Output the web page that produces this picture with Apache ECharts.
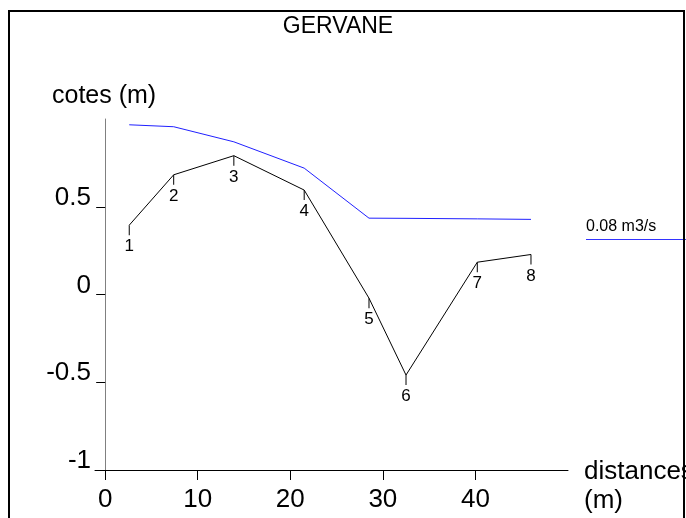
<!DOCTYPE html>
<html>
<head>
<meta charset="utf-8">
<script src="https://cdn.jsdelivr.net/npm/echarts@6/dist/echarts.min.js"></script>
<style>
  html, body { margin: 0; padding: 0; background: #fff; }
  #chart { width: 686px; height: 518px; }
</style>
</head>
<body>
<div id="chart"></div>
<script>
// Cross-section of the Gervane: bed profile with surveyed stations, and water line
const stationNames = ['1', '2', '3', '4', '5', '6', '7', '8'];
const distances = [2.6, 7.4, 13.9, 21.5, 28.5, 32.5, 40.2, 46.0];
const bedLevels = [0.395, 0.682, 0.791, 0.595, -0.021, -0.459, 0.184, 0.228];
const waterLevels = [0.967, 0.956, 0.870, 0.720, 0.435, 0.434, 0.431, 0.428];
const xTicks = [0, 10, 20, 30, 40];
const yTicks = [-1, -0.5, 0, 0.5];
const riverName = 'GERVANE';
const dischargeLabel = '0.08 m3/s';

const FONT = '"Liberation Sans", Arial, sans-serif';

const bedData = distances.map((d, i) => [d, bedLevels[i]]);
const waterData = distances.map((d, i) => [d, waterLevels[i]]);

const chart = echarts.init(document.getElementById('chart'), null, { renderer: 'canvas' });

chart.setOption({
  backgroundColor: '#ffffff',
  animation: false,
  grid: { left: 95, right: 118, top: 119, bottom: 48, containLabel: false },
  xAxis: {
    type: 'value',
    min: -1.1,
    max: 50,
    splitLine: { show: false },
    axisLine: { onZero: false, lineStyle: { color: '#000', width: 1 } },
    axisTick: { show: true, length: 10, customValues: xTicks, lineStyle: { color: '#000' } },
    axisLabel: {
      customValues: xTicks,
      margin: 17,
      fontFamily: FONT, fontSize: 26, color: '#000'
    }
  },
  yAxis: {
    type: 'value',
    min: -1,
    max: 1,
    splitLine: { show: false },
    axisLine: { onZero: true, lineStyle: { color: '#808080', width: 1 } },
    axisTick: { show: true, length: 9, customValues: yTicks, lineStyle: { color: '#000' } },
    axisLabel: {
      customValues: yTicks,
      margin: 4,
      verticalAlign: 'bottom',
      lineHeight: 18,
      fontFamily: FONT, fontSize: 26, color: '#000'
    }
  },
  graphic: [
    // outer frame
    { type: 'rect', shape: { x: 9, y: 11, width: 675, height: 530 },
      style: { fill: null, stroke: '#000', lineWidth: 2 }, z: 100 },
    { type: 'text', x: 338, y: 15, style: { text: riverName, font: '23px ' + FONT, fill: '#000', align: 'center', verticalAlign: 'top' } },
    { type: 'text', x: 52, y: 84, style: { text: 'cotes (m)', font: '25px ' + FONT, fill: '#000', align: 'left', verticalAlign: 'top' } },
    { type: 'text', x: 584, y: 459, style: { text: 'distances', font: '26px ' + FONT, fill: '#000', align: 'left', verticalAlign: 'top' } },
    { type: 'text', x: 584, y: 488, style: { text: '(m)', font: '26px ' + FONT, fill: '#000', align: 'left', verticalAlign: 'top' } },
    // discharge key
    { type: 'text', x: 586, y: 219, style: { text: dischargeLabel, font: '16px ' + FONT, fill: '#000', align: 'left', verticalAlign: 'top' } },
    { type: 'line', shape: { x1: 586, y1: 239.5, x2: 686, y2: 239.5 }, style: { stroke: '#3333ff', lineWidth: 1 } }
  ],
  series: [
    {
      name: dischargeLabel,
      type: 'line',
      data: waterData,
      symbol: 'none',
      lineStyle: { color: '#2020ff', width: 1 },
      z: 3
    },
    {
      name: 'profil',
      type: 'line',
      data: bedData,
      symbol: 'rect',
      symbolSize: [1, 10],
      symbolOffset: [0, 5],
      itemStyle: { color: '#000' },
      lineStyle: { color: '#000', width: 1 },
      label: {
        show: true,
        position: 'bottom',
        distance: 3,
        formatter: (p) => stationNames[p.dataIndex],
        fontFamily: FONT, fontSize: 17, color: '#000'
      },
      z: 4
    }
  ]
});
</script>
</body>
</html>
